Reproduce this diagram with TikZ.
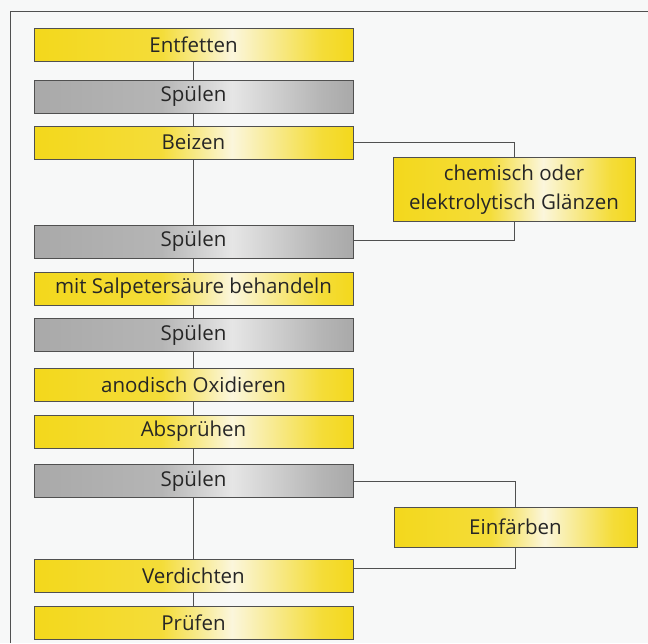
\documentclass[tikz,border=0pt]{standalone}
\usepackage{fontspec}
\setmainfont{Open Sans}
\definecolor{bY}{HTML}{F3D81C}
\definecolor{bYh}{HTML}{FBF6DC}
\definecolor{bG}{HTML}{A9A9A9}
\definecolor{bGh}{HTML}{E6E6E6}
\definecolor{edge}{HTML}{505050}
\definecolor{txt}{HTML}{262626}
\definecolor{bg}{HTML}{F7F8F8}
\pgfdeclarehorizontalshading{yshade}{100bp}{color(0bp)=(bY); color(25bp)=(bY); color(45bp)=(bY!85!bYh); color(56bp)=(bYh); color(70bp)=(bY!85!bYh); color(75bp)=(bY); color(100bp)=(bY)}
\pgfdeclarehorizontalshading{gshade}{100bp}{color(0bp)=(bG); color(25bp)=(bG); color(45bp)=(bG!80!bGh); color(56bp)=(bGh); color(70bp)=(bG!80!bGh); color(75bp)=(bG); color(100bp)=(bG)}
\begin{document}
\begin{tikzpicture}[x=1pt,y=-1pt,
  box/.style={draw=edge, line width=0.9pt, inner sep=0pt, text=txt,
    font=\fontsize{20.5}{29}\selectfont, align=center},
  ybox/.style={box, shading=yshade},
  gbox/.style={box, shading=gshade},
  mainbox/.style={minimum width=319pt, minimum height=33pt},
  conn/.style={draw=edge, line width=0.9pt}]
\fill[bg] (0,0) rectangle (648,643);
\useasboundingbox (0,0) rectangle (648,643);
\draw[edge, line width=1pt] (10,643) -- (10,11) -- (648,11);
\node[ybox, mainbox] (e1) at (193.5,44.5) {Entfetten};
\node[gbox, mainbox] (s1) at (193.5,96.5) {Spülen};
\node[ybox, mainbox] (bz) at (193.5,142.5) {Beizen};
\node[gbox, mainbox] (s2) at (193.5,241.5) {Spülen};
\node[ybox, mainbox] (sp) at (193.5,288.5) {mit Salpetersäure behandeln};
\node[gbox, mainbox] (s3) at (193.5,335) {Spülen};
\node[ybox, mainbox] (ao) at (193.5,384.5) {anodisch Oxidieren};
\node[ybox, mainbox] (ab) at (193.5,431.5) {Absprühen};
\node[gbox, mainbox] (s4) at (193.5,481) {Spülen};
\node[ybox, mainbox] (vd) at (193.5,575.5) {Verdichten};
\node[ybox, mainbox] (pf) at (193.5,623) {Prüfen};
\node[ybox, minimum width=242pt, minimum height=64pt] (gl) at (514,189.5) {chemisch oder\\elektrolytisch Glänzen};
\node[ybox, minimum width=243pt, minimum height=40pt] (ef) at (515.5,527) {Einfärben};
\draw[conn] (e1) -- (s1);
\draw[conn] (s1) -- (bz);
\draw[conn] (bz) -- (s2);
\draw[conn] (s2) -- (sp);
\draw[conn] (sp) -- (s3);
\draw[conn] (s3) -- (ao);
\draw[conn] (ao) -- (ab);
\draw[conn] (ab) -- (s4);
\draw[conn] (s4) -- (vd);
\draw[conn] (vd) -- (pf);
\draw[conn] (bz.east) -| (gl.north);
\draw[conn] (gl.south) |- ([yshift=1.5pt]s2.east);
\draw[conn] (s4.east) -| (ef.north);
\draw[conn] (ef.south) |- ([yshift=7.5pt]vd.east);
\end{tikzpicture}
\end{document}
